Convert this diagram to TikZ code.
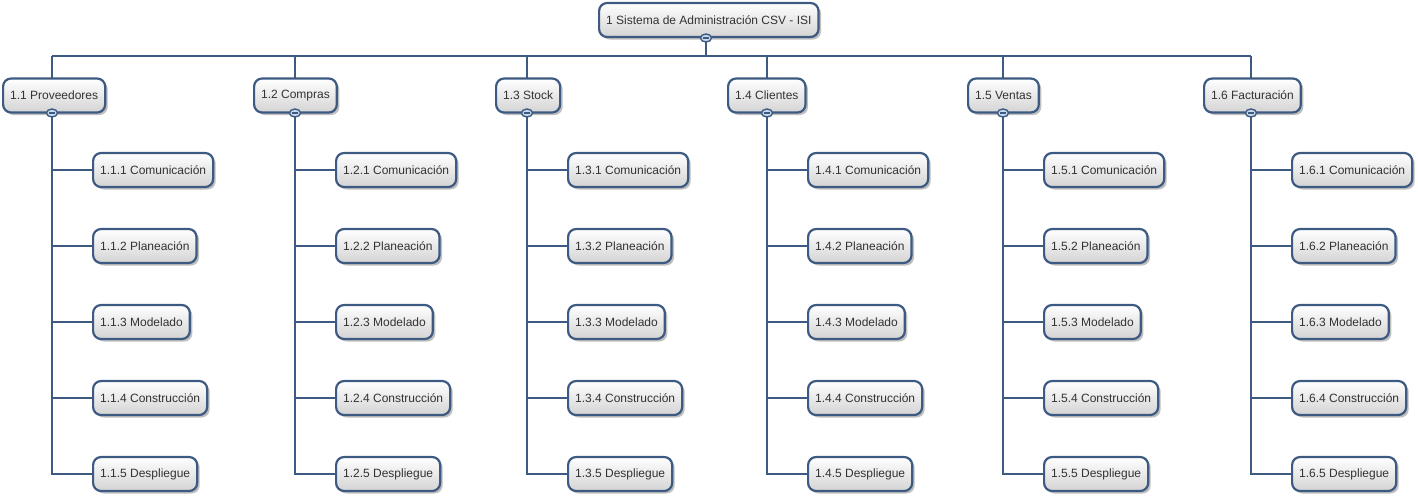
\documentclass[tikz,border=0pt]{standalone}
\usepackage{fontspec}
\setmainfont{Liberation Sans}
\usetikzlibrary{shadows,shapes.geometric}
\definecolor{bordc}{HTML}{3D5A82}
\definecolor{txtc}{HTML}{333333}
\definecolor{collc}{HTML}{C9D9EE}
\tikzset{
  box/.style={draw=bordc, line width=2.2pt, rounded corners=8pt,
    top color=white, bottom color=black!17, text=txtc,
    minimum height=34pt, inner xsep=7pt, inner ysep=0pt, anchor=west,
    font=\fontsize{12}{14}\selectfont,
    drop shadow={shadow xshift=2.5pt, shadow yshift=-2.5pt, fill=black, opacity=0.25}},
  coll/.style={ellipse, draw=bordc, line width=1.4pt, fill=collc,
    minimum width=11pt, minimum height=8pt, inner sep=0pt,
    path picture={\draw[bordc, line width=1.3pt]
      ([xshift=-3pt]path picture bounding box.center) -- ([xshift=3pt]path picture bounding box.center);}},
  conn/.style={draw=bordc, line width=2.6pt}
}
\begin{document}
\begin{tikzpicture}[x=1pt,y=-1pt]
\useasboundingbox (0,0) rectangle (1418,501);
% root
\node[box] (n0) at (598,20) {1 Sistema de Administración CSV - ISI};
\coordinate (b1) at (52,56);
\coordinate (b6) at (1251,56);
\draw[conn] (b1) -- (b6);
\draw[conn] (n0.south -| 706,0) -- (706,56) coordinate (b0);
\node[coll] (k0) at (706,38) {};
% level 1
\foreach \i/\L/\C/\name in {1/2/52/Proveedores, 2/253/295/Compras, 3/495/527/Stock, 4/727/767/Clientes, 5/967/1003/Ventas, 6/1203/1251/Facturación}{
  \coordinate (bus\i) at (\C,56);
  \draw[conn] (bus\i) -- (\C,80);
  \node[box] (n\i) at (\L,95.5) {1.\i\ \name};
  \foreach \j/\cn in {1/Comunicación, 2/Planeación, 3/Modelado, 4/Construcción, 5/Despliegue}{
    \node[box] (c\i\j) at ({\C+40},{170+76*(\j-1)}) {1.\i.\j\ \cn};
  }
  \draw[conn] (n\i.south -| \C,0) -- (\C,474) -- (c\i5.west);
  \foreach \j in {1,2,3,4}{
    \draw[conn] (c\i\j.west -| \C,0) -- (c\i\j.west);
  }
  \node[coll] (k\i) at (\C,113) {};
}
\end{tikzpicture}
\end{document}
